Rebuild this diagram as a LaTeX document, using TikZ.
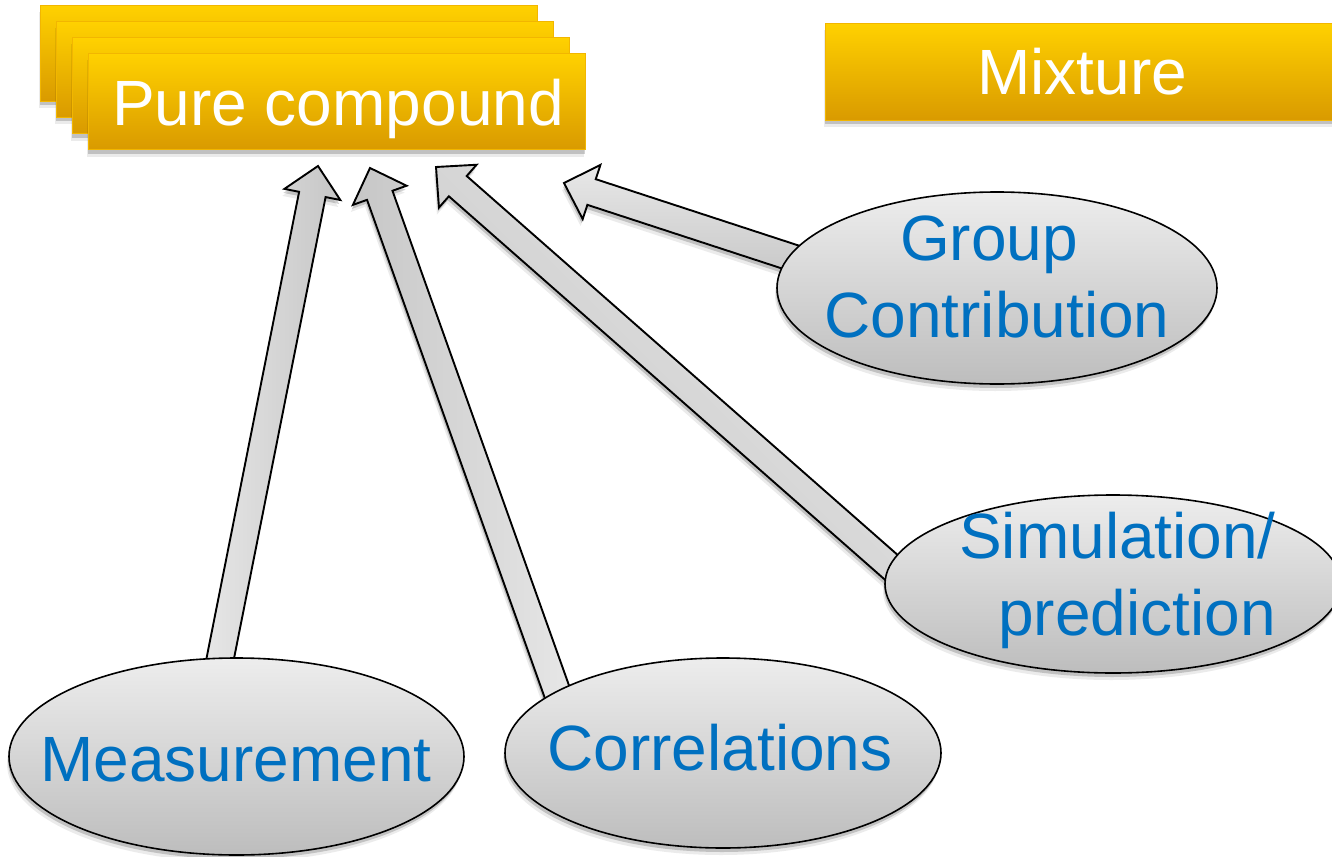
\documentclass[tikz,border=0pt]{standalone}
\usepackage{fontspec}
\setmainfont{Liberation Sans}
\usetikzlibrary{calc,shapes.geometric,shadows}

\definecolor{boxtop}{HTML}{FFD100}
\definecolor{boxbot}{HTML}{D99A00}
\definecolor{boxline}{HTML}{F2B600}
\definecolor{elltop}{HTML}{EDEDED}
\definecolor{ellbot}{HTML}{BDBDBD}
\definecolor{arrtop}{HTML}{E8E8E8}
\definecolor{arrbot}{HTML}{C6C6C6}
\definecolor{txtblue}{HTML}{0070C0}

\tikzset{
  softshadow/.style={drop shadow={shadow xshift=-1pt, shadow yshift=-4pt, opacity=0.18, fill=black},
                     drop shadow={shadow xshift=-2pt, shadow yshift=-7pt, opacity=0.08, fill=black}},
  ybox/.style={draw=boxline, line width=1pt, top color=boxtop, bottom color=boxbot,
               minimum width=497pt, minimum height=96pt, anchor=north west, inner sep=0pt,
               softshadow},
  ybtext/.style={text=white, font=\fontsize{64}{77}\selectfont, anchor=base, inner sep=0pt},
  ell/.style={ellipse, draw=black, line width=1.6pt, top color=elltop, bottom color=ellbot,
              inner sep=0pt, softshadow},
  etext/.style={text=txtblue, font=\fontsize{64}{77}\selectfont, anchor=base, inner sep=0pt},
  blockarrow/.style={draw=black, line width=1.9pt, line join=miter, top color=arrtop,
                     bottom color=arrbot, softshadow}
}

% #1 options, #2 tail coordinate, #3 tip coordinate
\newcommand\blkarrow[3]{%
  \coordinate (bh) at ($(#3)!29pt!(#2)$);
  \path[blockarrow,#1]
    ($(#2)!13.5pt!90:(#3)$) -- ($(bh)!13.5pt!90:(#3)$) -- ($(bh)!28.5pt!90:(#3)$)
    -- (#3) -- ($(bh)!28.5pt!-90:(#3)$) -- ($(bh)!13.5pt!-90:(#3)$)
    -- ($(#2)!13.5pt!-90:(#3)$) -- cycle;
}

\begin{document}
\begin{tikzpicture}[x=1pt,y=-1pt]
\useasboundingbox (0,0) rectangle (1332,856);
\clip (0,0) rectangle (1332,856);

% stacked pure compound boxes
\node[ybox] (pc1) at (40,5) {};
\node[ybox] (pc2) at (56,21) {};
\node[ybox] (pc3) at (72,37) {};
\node[ybox] (pc4) at (88,53) {};
\node[ybtext] (pct) at (338,125) {Pure compound};

% mixture box
\node[ybox, minimum width=515pt, minimum height=97pt] (mix) at (825,23) {};
\node[ybtext] (mixt) at (1082,95) {Mixture};

% arrow coordinates
\coordinate (t1) at (212,700);  \coordinate (h1) at (318,166);
\coordinate (t2) at (567,720);  \coordinate (h2) at (370,168);
\coordinate (t3) at (933,604);  \coordinate (h3) at (436,167);
\coordinate (t4) at (830,270);  \coordinate (h4) at (564,183);

\blkarrow{shading angle=90}{t1}{h1}
\blkarrow{shading angle=-90}{t2}{h2}
\blkarrow{shading angle=-45}{t3}{h3}
\blkarrow{shading angle=0}{t4}{h4}

% ellipses
\node[ell, minimum width=455pt, minimum height=197pt] (meas) at (236.5,756.5) {};
\node[etext] (meast) at (236,781) {Measurement};

\node[ell, minimum width=436pt, minimum height=190pt] (corr) at (723,753) {};
\node[etext] (corrt) at (720,770) {Correlations};

\node[ell, minimum width=440pt, minimum height=192pt] (grp) at (997,288) {};
\node[etext] (grpt1) at (989,260) {Group};
\node[etext] (grpt2) at (997,337) {Contribution};

\node[ell, minimum width=456pt, minimum height=178pt] (sim) at (1113,584) {};
\node[etext, anchor=base east] (simt1) at (1276,558) {Simulation/};
\node[etext, anchor=base east] (simt2) at (1276,635) {prediction};
\end{tikzpicture}
\end{document}
